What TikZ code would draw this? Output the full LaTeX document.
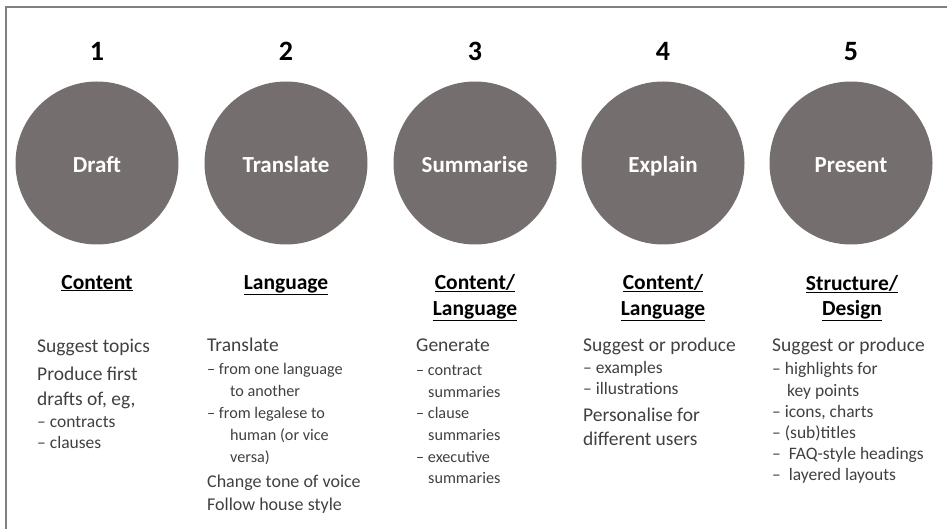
\documentclass[tikz,border=0pt]{standalone}
\usepackage{fontspec}
\setmainfont{Carlito}
\definecolor{circgray}{RGB}{116,111,110}
\definecolor{framegray}{RGB}{128,128,128}
\definecolor{bodygray}{RGB}{64,64,64}
\tikzset{
  disc/.style={circle, fill=circgray, minimum size=163pt, inner sep=0pt},
  disclabel/.style={anchor=base, inner sep=0pt, text=white, font=\fontsize{23}{26}\bfseries\selectfont},
  num/.style={anchor=base, inner sep=0pt, font=\fontsize{28}{32}\bfseries\selectfont},
  head/.style={anchor=base, inner sep=0pt, font=\fontsize{21.5}{24}\bfseries\selectfont},
  body/.style={anchor=base west, inner sep=0pt, text=bodygray, font=\fontsize{19.5}{22}\selectfont},
  bullet/.style={anchor=base west, inner sep=0pt, text=bodygray, font=\fontsize{17.5}{20}\selectfont},
  smallbullet/.style={anchor=base west, inner sep=0pt, text=bodygray, font=\fontsize{16.2}{19}\selectfont},
  mid/.style={anchor=base west, inner sep=0pt, text=bodygray, font=\fontsize{18}{20}\selectfont},
  frameline/.style={draw=framegray, line width=1.4pt}
}
\begin{document}
\begin{tikzpicture}[x=1pt,y=-1pt]
\useasboundingbox (0,0) rectangle (947,529);
% frame (top and left)
\coordinate (fa) at (947,7);
\coordinate (fb) at (6,7);
\coordinate (fc) at (6,529);
\draw[frameline] (fa) -- (fb) -- (fc);
% numbers
\node[num] (n1) at (97,61) {1};
\node[num] (n2) at (286,61) {2};
\node[num] (n3) at (475,61) {3};
\node[num] (n4) at (663,61) {4};
\node[num] (n5) at (851,61) {5};
% circles
\node[disc] (d1) at (97,163) {};
\node[disc] (d2) at (286,163) {};
\node[disc] (d3) at (475,163) {};
\node[disc] (d4) at (663,163) {};
\node[disc] (d5) at (851,163) {};
\node[disclabel] (t1) at (97,173) {Draft};
\node[disclabel] (t2) at (286,173) {Translate};
\node[disclabel] (t3) at (475,173) {Summarise};
\node[disclabel] (t4) at (663,173) {Explain};
\node[disclabel] (t5) at (851,173) {Present};
% headings
\node[head] (h1) at (97,289) {\underline{Content}};
\node[head] (h2) at (286,289) {\underline{Language}};
\node[head] (h3a) at (475,289) {\underline{Content/}};
\node[head] (h3b) at (475,315) {\underline{Language}};
\node[head] (h4a) at (663,289) {\underline{Content/}};
\node[head] (h4b) at (663,315) {\underline{Language}};
\node[head] (h5a) at (852,290) {\underline{Structure/}};
\node[head] (h5b) at (852,315) {\underline{Design}};
% column 1
\node[body] (a1) at (37,352) {Suggest topics};
\node[body] (a2) at (37,380) {Produce first};
\node[body] (a3) at (37,405) {drafts of, eg,};
\node[bullet] (a4) at (37,427) {– contracts};
\node[bullet] (a5) at (37,448) {– clauses};
% column 2
\node[body] (b1) at (207,351) {Translate};
\node[smallbullet] (b2) at (207,374) {– from one language};
\node[smallbullet] (b3) at (230,396) {to another};
\node[smallbullet] (b4) at (207,418) {– from legalese to};
\node[smallbullet] (b5) at (230,440) {human (or vice};
\node[smallbullet] (b6) at (230,462) {versa)};
\node[mid] (b7) at (207,487) {Change tone of voice};
\node[mid] (b8) at (207,510) {Follow house style};
% column 3
\node[body] (c1) at (416,351) {Generate};
\node[smallbullet] (c2) at (416,375) {– contract};
\node[smallbullet] (c3) at (428,397) {summaries};
\node[smallbullet] (c4) at (416,418) {– clause};
\node[smallbullet] (c5) at (428,440) {summaries};
\node[smallbullet] (c6) at (416,462) {– executive};
\node[smallbullet] (c7) at (428,483) {summaries};
% column 4
\node[body] (e1) at (583,351) {Suggest or produce};
\node[bullet] (e2) at (583,373) {– examples};
\node[bullet] (e3) at (583,394) {– illustrations};
\node[body] (e4) at (583,421) {Personalise for};
\node[body] (e5) at (583,445) {different users};
% column 5
\node[body] (f1) at (772,351) {Suggest or produce};
\node[bullet] (f2) at (772,374) {– highlights for};
\node[bullet] (f3) at (787,396) {key points};
\node[bullet] (f4) at (772,417) {– icons, charts};
\node[bullet] (f5) at (772,438) {– (sub)titles};
\node[bullet] (f6) at (772,459) {–\ \ FAQ-style headings};
\node[bullet] (f7) at (772,480) {–\ \ layered layouts};
\end{tikzpicture}
\end{document}
